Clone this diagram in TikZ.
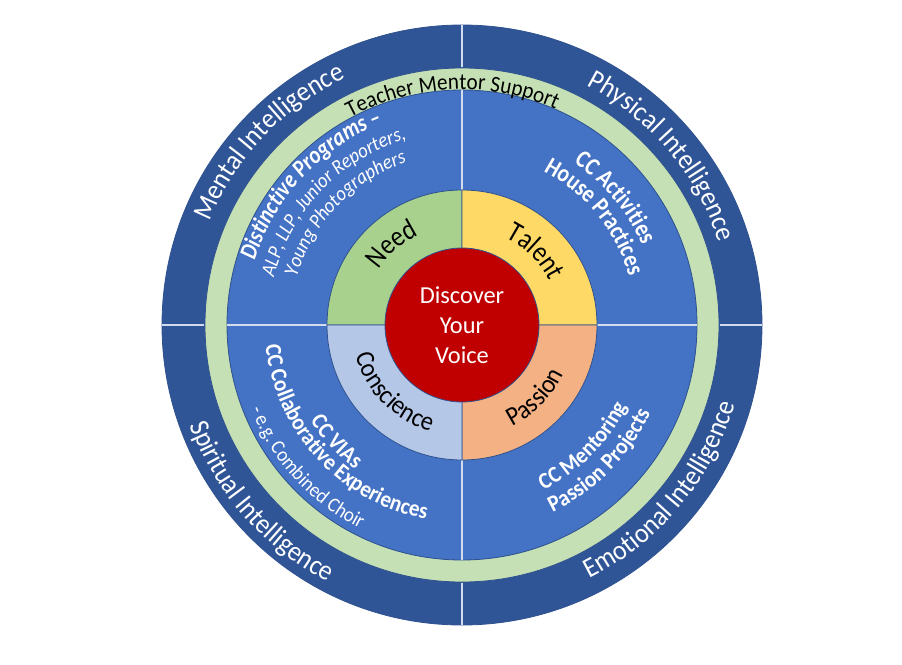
\documentclass[tikz,border=0pt]{standalone}
\usepackage{fontspec}
\setmainfont{Carlito}
\newfontfamily\narrowfont[FakeStretch=0.85]{Carlito}
\newfontfamily\slimfont[FakeStretch=0.92]{Carlito}
\usetikzlibrary{decorations.text}

\definecolor{ringdark}{HTML}{2F5597}
\definecolor{ringblue}{HTML}{4472C4}
\definecolor{mentorgreen}{HTML}{C5E0B4}
\definecolor{needgreen}{HTML}{A9D18E}
\definecolor{talentyellow}{HTML}{FFD966}
\definecolor{passionorange}{HTML}{F4B183}
\definecolor{consciblue}{HTML}{B4C7E7}
\definecolor{voicered}{HTML}{C00000}
\definecolor{edgeblue}{HTML}{2F528F}
\definecolor{splitline}{HTML}{D3DCEE}

\newcommand{\outerfont}{\slimfont\fontsize{28}{33}\selectfont\color{white}}
\newcommand{\mentorfont}{\slimfont\fontsize{23}{27}\selectfont\color{black}}
\newcommand{\titlefont}{\narrowfont\fontsize{25}{30}\selectfont\bfseries\color{white}}
\newcommand{\lowtitlefont}{\slimfont\fontsize{23}{28}\selectfont\bfseries\color{white}}
\newcommand{\titleitfont}{\narrowfont\fontsize{24.5}{29}\selectfont\bfseries\itshape\color{white}}
\newcommand{\detailfont}{\slimfont\fontsize{20.5}{24}\selectfont\color{white}}
\newcommand{\detailitfont}{\slimfont\fontsize{20.5}{24}\selectfont\itshape\color{white}}
\newcommand{\ringfont}{\narrowfont\fontsize{29}{34}\selectfont\color{black}}
\newcommand{\lowringfont}{\slimfont\fontsize{26.5}{31}\selectfont\color{black}}

% text on an arc round (0,0): font, mid angle, radius, text
\newcommand{\toparc}[4]{%
  \path[decorate, decoration={text along path, text align=center, text={|#1|#4}}]
    (#2+70:#3) arc[start angle=#2+70, end angle=#2-70, radius=#3];}
\newcommand{\botarc}[4]{%
  \path[decorate, decoration={text along path, text align=center, text={|#1|#4}}]
    (#2-70:#3) arc[start angle=#2-70, end angle=#2+70, radius=#3];}

\begin{document}
\begin{tikzpicture}[x=1pt, y=1pt,
    rim/.style={draw=edgeblue, line width=0.8pt},
    divider/.style={splitline, line width=1.2pt}
  ]
  \useasboundingbox[fill=white] (-462,-339) rectangle (440,325);

  % rings
  \filldraw[rim, fill=ringdark] (0,0) circle[radius=300pt];
  \filldraw[rim, fill=mentorgreen] (0,0) circle[radius=257pt];
  \filldraw[rim, fill=ringblue] (0,0) circle[radius=235pt];
  \foreach \a in {0,90,180,270} {
    \draw[divider] (\a:135pt) -- (\a:234.5pt);
    \draw[divider] (\a:257.5pt) -- (\a:299.5pt);
  }
  \foreach \a/\c in {90/needgreen, 0/talentyellow, 270/passionorange, 180/consciblue}
    \filldraw[rim, fill=\c] (0,0) -- (\a:135pt) arc[start angle=\a, end angle=\a+90, radius=135pt] -- cycle;
  \node[circle, rim, fill=voicered, minimum size=154pt, inner sep=0pt, align=center,
        text=white, font=\fontsize{24.4}{30}\selectfont] (voice) at (0,0) {Discover\\Your\\Voice};

  % outer ring
  \toparc{\outerfont}{136.5}{273pt}{Mental Intelligence}
  \toparc{\outerfont}{40.2}{270pt}{Physical Intelligence}
  \botarc{\outerfont}{221.3}{290pt}{Spiritual Intelligence}
  \botarc{\outerfont}{-39.7}{284pt}{Emotional Intelligence}
  \toparc{\mentorfont}{92.4}{235.5pt}{Teacher Mentor Support}

  % quadrant texts
  \toparc{\titleitfont}{137.1}{217pt}{Distinctive Programs –}
  \toparc{\detailitfont}{136.2}{194pt}{ALP, LLP, Junior Reporters,}
  \toparc{\detailitfont}{136.3}{172pt}{Young Photographers}
  \toparc{\titlefont}{39.7}{197pt}{CC Activities}
  \toparc{\titlefont}{39.2}{174pt}{House Practices}
  \botarc{\lowtitlefont}{-45}{184pt}{CC Mentoring}
  \botarc{\lowtitlefont}{-44.6}{208pt}{Passion Projects}
  \botarc{\lowtitlefont}{222.9}{179.5pt}{CC VIAs}
  \botarc{\lowtitlefont}{222.7}{197.5pt}{CC Collaborative Experiences}
  \botarc{\detailfont}{222.6}{227.5pt}{- e.g. Combined Choir}

  % middle ring
  \toparc{\ringfont}{131}{100pt}{Need}
  \toparc{\ringfont}{45}{98pt}{Talent}
  \botarc{\lowringfont}{-44.6}{113pt}{Passion}
  \botarc{\lowringfont}{224.7}{111pt}{Conscience}
\end{tikzpicture}
\end{document}
